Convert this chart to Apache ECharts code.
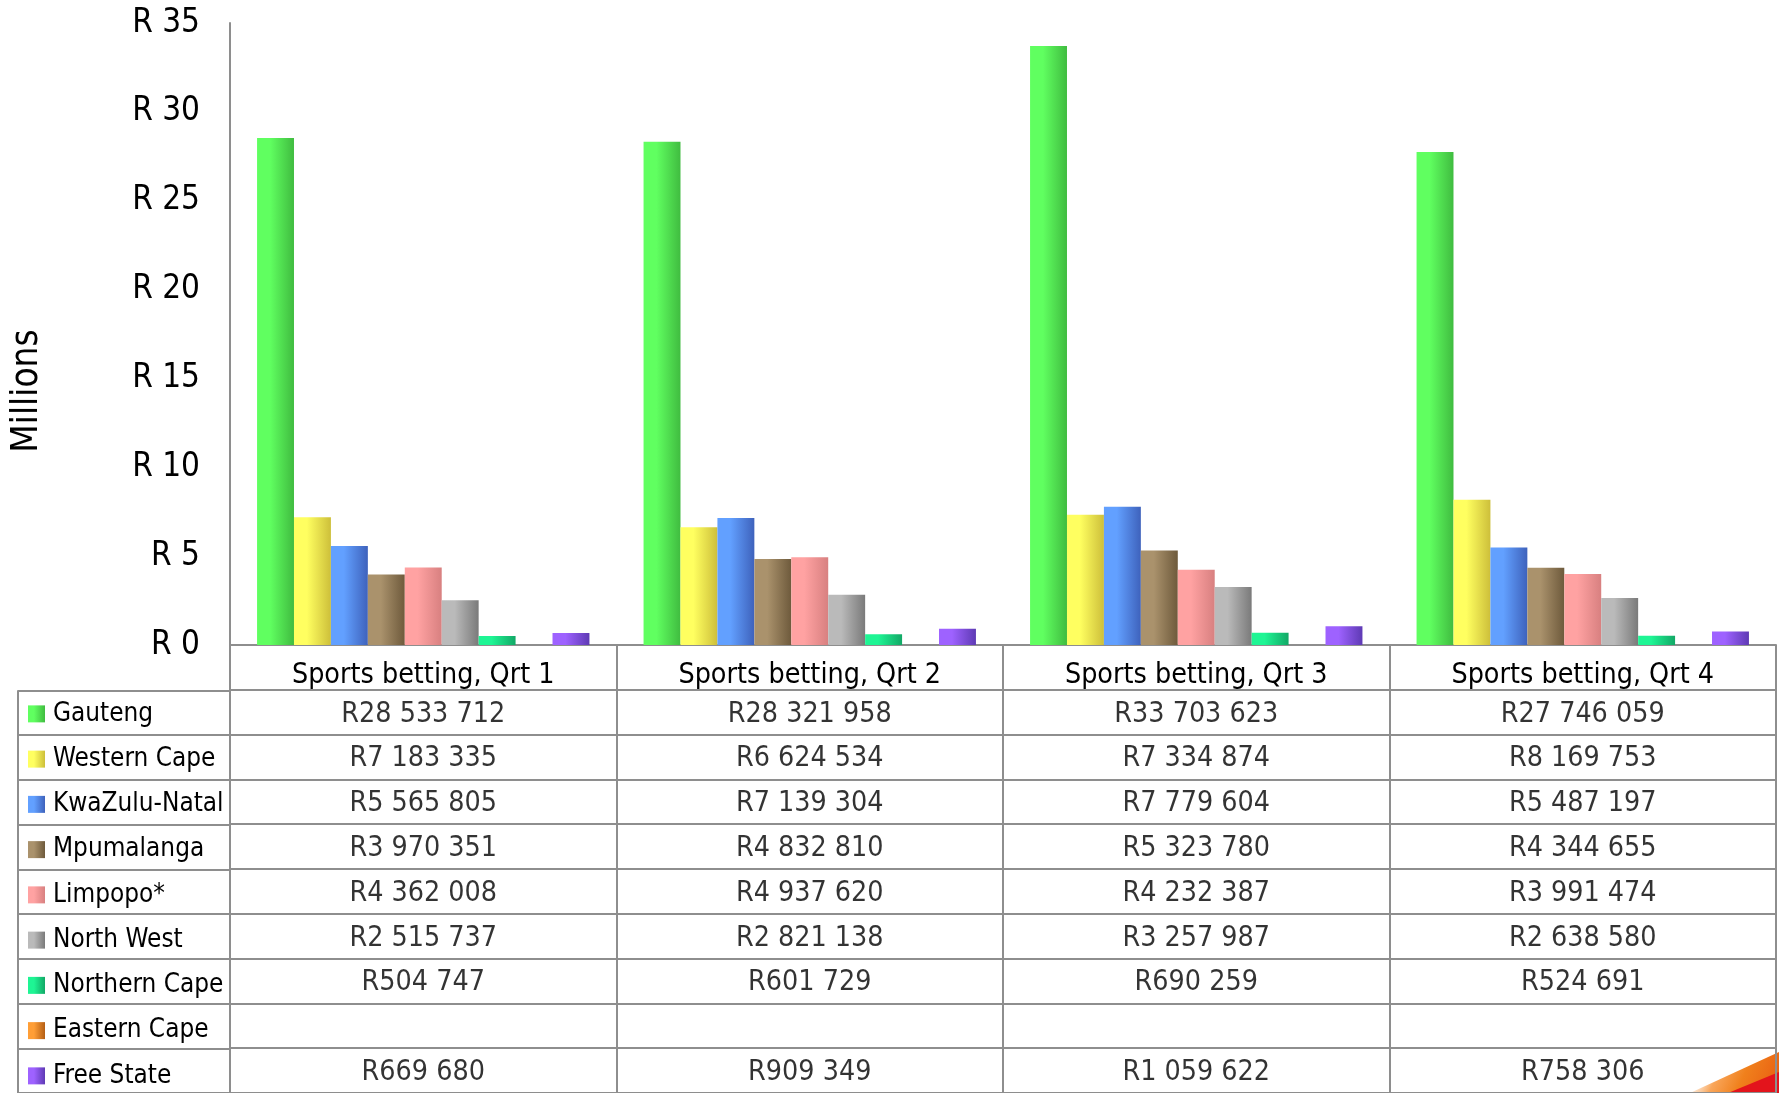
<!DOCTYPE html>
<html>
<head>
<meta charset="utf-8">
<title>Sports betting by province</title>
<script src="https://cdn.jsdelivr.net/npm/echarts@6/dist/echarts.min.js"></script>
<style>
  html, body { margin: 0; padding: 0; background: #fff; }
  #chart { width: 1779px; height: 1093px; }
</style>
</head>
<body>
<div id="chart"></div>
<script>
// Quarterly sports betting revenue per province (Rand)
const quarters = ['Sports betting, Qrt 1', 'Sports betting, Qrt 2', 'Sports betting, Qrt 3', 'Sports betting, Qrt 4'];
const regions = ['Gauteng', 'Western Cape', 'KwaZulu-Natal', 'Mpumalanga', 'Limpopo*', 'North West', 'Northern Cape', 'Eastern Cape', 'Free State'];

const gauteng      = [28533712, 28321958, 33703623, 27746059];
const westernCape  = [7183335, 6624534, 7334874, 8169753];
const kwaZuluNatal = [5565805, 7139304, 7779604, 5487197];
const mpumalanga   = [3970351, 4832810, 5323780, 4344655];
const limpopo      = [4362008, 4937620, 4232387, 3991474];
const northWest    = [2515737, 2821138, 3257987, 2638580];
const northernCape = [504747, 601729, 690259, 524691];
const easternCape  = [null, null, null, null];
const freeState    = [669680, 909349, 1059622, 758306];

const seriesValues = [gauteng, westernCape, kwaZuluNatal, mpumalanga, limpopo, northWest, northernCape, easternCape, freeState];

// Value axis in Rand, labelled in millions
const axisMax = 35000000;
const axisStep = 5000000;

// Light / dark shade per province for the bar gradients
const shades = [
  ['#60ff60', '#40bc40'],
  ['#ffff60', '#cdbf3a'],
  ['#62a0ff', '#3e62bc'],
  ['#aa926c', '#6e5a3c'],
  ['#ffa2a2', '#d88080'],
  ['#bababa', '#7a7a7a'],
  ['#1ef594', '#12a866'],
  ['#ff9e36', '#b45e14'],
  ['#9e62ff', '#5e3ab4']
];

// Pick a condensed sans face that is actually installed
function pickFont(candidates, fallback) {
  const ctx = document.createElement('canvas').getContext('2d');
  const probe = 'Sports betting, Qrt 1 KwaZulu-Natal';
  for (const f of candidates) {
    for (const base of ['monospace', 'serif']) {
      ctx.font = '40px ' + base;
      const a = ctx.measureText(probe).width;
      ctx.font = '40px "' + f + '", ' + base;
      const b = ctx.measureText(probe).width;
      if (Math.abs(a - b) > 0.5) return f;
    }
  }
  return fallback;
}
const FONT = pickFont(['Liberation Sans Narrow', 'Arial Narrow', 'DejaVu Sans Condensed', 'Noto Sans Condensed', 'Roboto Condensed'], 'Liberation Sans');

// Width ratio of the chosen face against a narrow grotesque
const widthFit = (function () {
  const ctx = document.createElement('canvas').getContext('2d');
  ctx.font = '100px "' + FONT + '", sans-serif';
  const w = ctx.measureText('Western Cape').width;
  return Math.min(1, 524 / w);
})();
// Legend names must fit the narrow first column; other text can be a bit taller
const legendFactor = Math.max(0.78, Math.min(1, widthFit));
const textFactor = Math.max(0.85, Math.min(1, (1 + widthFit) / 2));
const fs = (n) => Math.round(n * textFactor * 10) / 10;

const LINE = '#8e8e8e';
const fmtRand = (v) => 'R' + String(v).replace(/\B(?=(\d{3})+(?!\d))/g, ' ');

// Light on the left edge, shading towards the right edge
function grad(pair) {
  return new echarts.graphic.LinearGradient(0, 0, 1, 0, [
    { offset: 0, color: pair[0] },
    { offset: 0.35, color: pair[0] },
    { offset: 1, color: pair[1] }
  ]);
}

const ROW = 45.25;
const TABLE_TOP = 645;
const tableRows = [''].concat(regions);

const barSeries = regions.map((name, i) => ({
  name: name,
  type: 'bar',
  xAxisIndex: 0,
  yAxisIndex: 0,
  barGap: '0%',
  barCategoryGap: '14%',
  data: seriesValues[i],
  itemStyle: { color: grad(shades[i]) },
  emphasis: { disabled: true }
}));

// Cell texts of the data table beneath the bars
const cellData = [];
regions.forEach((name, r) => {
  seriesValues[r].forEach((v, q) => {
    if (v != null) cellData.push({ value: [q, name], text: fmtRand(v) });
  });
});

const chart = echarts.init(document.getElementById('chart'), null, { renderer: 'canvas' });

chart.setOption({
  animation: false,
  backgroundColor: '#ffffff',
  textStyle: { fontFamily: FONT },
  grid: [
    { left: 230, top: 23, width: 1546, height: TABLE_TOP - 23 },
    { left: 230, top: TABLE_TOP, width: 1546, height: ROW * tableRows.length },
    { left: 18, top: TABLE_TOP + ROW, width: 212, height: ROW * regions.length }
  ],
  legend: {
    orient: 'vertical',
    left: 28,
    top: TABLE_TOP + ROW + 1,
    height: ROW * regions.length + 20,
    padding: 0,
    itemGap: 0,
    itemWidth: 17,
    itemHeight: 17,
    icon: 'rect',
    selectedMode: false,
    data: regions,
    textStyle: {
      fontFamily: FONT,
      fontSize: Math.round(31 * legendFactor * 10) / 10,
      color: '#000',
      lineHeight: ROW,
      padding: [0, 0, 0, 3]
    }
  },
  xAxis: [
    {
      gridIndex: 0,
      type: 'category',
      data: quarters,
      axisLine: { show: true, lineStyle: { color: LINE, width: 2 } },
      axisTick: { show: false },
      axisLabel: { interval: 0, margin: 31, verticalAlign: 'middle', fontFamily: FONT, fontSize: fs(31), color: '#000' },
      splitLine: { show: false }
    },
    {
      gridIndex: 1,
      type: 'category',
      data: quarters,
      axisLine: { show: false },
      axisTick: { show: false },
      axisLabel: { show: false },
      splitLine: { show: true, interval: 0, lineStyle: { color: LINE, width: 2 } }
    },
    {
      gridIndex: 2,
      type: 'value',
      min: 0, max: 1, interval: 1,
      axisLine: { show: false },
      axisTick: { show: false },
      axisLabel: { show: false },
      splitLine: { show: true, lineStyle: { color: LINE, width: 2 } }
    }
  ],
  yAxis: [
    {
      gridIndex: 0,
      type: 'value',
      min: 0,
      max: axisMax,
      interval: axisStep,
      axisLine: { show: true, lineStyle: { color: LINE, width: 2 } },
      axisTick: { show: false },
      splitLine: { show: false },
      axisLabel: {
        margin: 30,
        fontFamily: FONT,
        fontSize: fs(36),
        color: '#000',
        formatter: (v) => 'R ' + Math.round(v / 1000000)
      }
    },
    {
      gridIndex: 1,
      type: 'category',
      inverse: true,
      data: tableRows,
      axisLine: { show: false },
      axisTick: { show: false },
      axisLabel: { show: false },
      splitLine: { show: true, interval: 0, lineStyle: { color: LINE, width: 2 } }
    },
    {
      gridIndex: 2,
      type: 'category',
      inverse: true,
      data: regions,
      axisLine: { show: false },
      axisTick: { show: false },
      axisLabel: { show: false },
      splitLine: { show: true, interval: 0, lineStyle: { color: LINE, width: 2 } }
    }
  ],
  series: barSeries.concat([
    {
      type: 'scatter',
      xAxisIndex: 1,
      yAxisIndex: 1,
      symbolSize: 0,
      silent: true,
      data: cellData,
      label: {
        show: true,
        position: 'inside',
        offset: [0, 2],
        fontFamily: FONT,
        fontSize: fs(31),
        color: '#000',
        formatter: (p) => p.data.text
      }
    }
  ]),
  graphic: [
    {
      type: 'text',
      x: 27,
      y: 391,
      rotation: Math.PI / 2,
      style: {
        text: 'Millions',
        fontFamily: FONT,
        fontSize: fs(40),
        fill: '#000',
        textAlign: 'center',
        textVerticalAlign: 'middle'
      }
    },
    {
      type: 'polygon',
      z: -1,
      shape: { points: [[1690, 1093], [1779, 1052], [1779, 1093]] },
      style: {
        fill: new echarts.graphic.LinearGradient(0, 0, 1, 1, [
          { offset: 0, color: 'rgba(255,255,255,0)' },
          { offset: 0.35, color: '#f9a65a' },
          { offset: 0.6, color: '#f0801c' },
          { offset: 1, color: '#e85a10' }
        ])
      }
    },
    {
      type: 'polygon',
      z: -1,
      shape: { points: [[1728, 1093], [1779, 1072], [1779, 1093]] },
      style: { fill: '#e3141c' }
    }
  ]
});
</script>
</body>
</html>
